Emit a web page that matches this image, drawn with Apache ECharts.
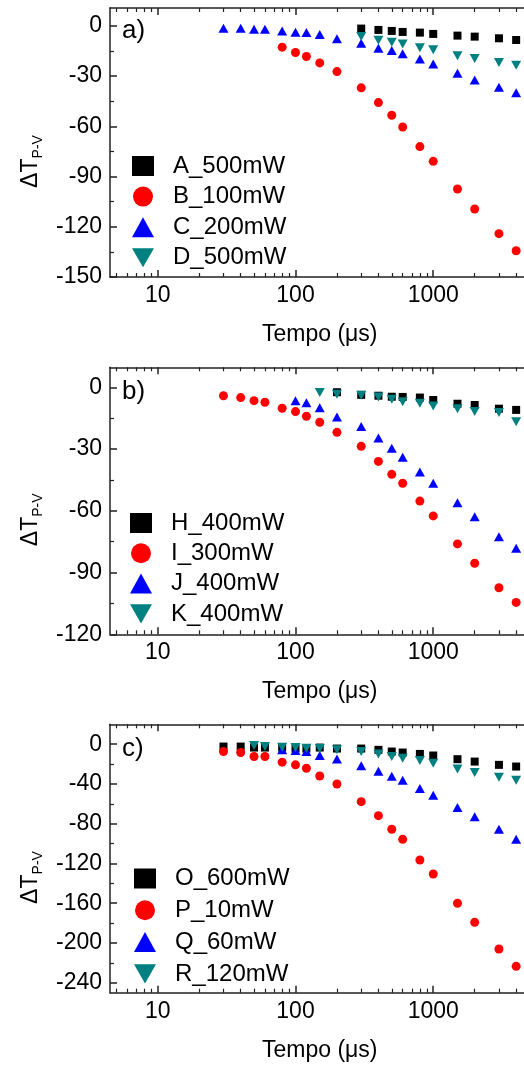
<!DOCTYPE html>
<html>
<head>
<meta charset="utf-8">
<script src="https://cdn.jsdelivr.net/npm/echarts@6/dist/echarts.min.js"></script>
<style>html,body{margin:0;padding:0;background:#fff}#c{width:524px;height:1067px}</style>
</head>
<body>
<div id="c"></div>
<script>
// ---- data ----
const t30 = [30,40,50,60,80,100,120,150,200,300,400,500,600,800,1000,1500,2000,3000,4000];
const t50 = [50,60,80,100,120,150,200,300,400,500,600,800,1000,1500,2000,3000,4000];
const t80 = [80,100,120,150,200,300,400,500,600,800,1000,1500,2000,3000,4000];
const t100 = [100,120,150,200,300,400,500,600,800,1000,1500,2000,3000,4000];
const t150 = [150,200,300,400,500,600,800,1000,1500,2000,3000,4000];
const t200 = [200,300,400,500,600,800,1000,1500,2000,3000,4000];
const t300 = [300,400,500,600,800,1000,1500,2000,3000,4000];

// panel a
const A_500mW = [-1.6,-2.4,-3,-3.6,-4,-4.8,-5.8,-6.4,-7.4,-8.4];
const B_100mW = [-12.7,-15.9,-18.3,-22.1,-27.3,-37,-45.8,-53.4,-60.4,-72.1,-80.9,-97.4,-109.4,-124.1,-134.3];
const C_200mW = [-1.4,-1.4,-2,-2,-3,-3.8,-4,-5.2,-7.6,-10.4,-13.3,-14.7,-16.7,-19.7,-22.7,-28.3,-32.3,-36.6,-39.9];
const D_500mW = [-6.4,-8.6,-9.8,-10.8,-13,-14.3,-17.9,-19.5,-21.9,-23.5];
// panel b
const H_400mW = [-2.4,-3.7,-4.1,-4.6,-4.7,-5,-6.2,-8,-8.6,-10.4,-11];
const I_300mW = [-4.1,-5,-6.5,-7.3,-10.2,-11.8,-14.1,-17,-21.9,-28.7,-36,-42.3,-46.6,-55.3,-62.5,-76.1,-85.5,-97.4,-104.5];
const J_400mW = [-6.5,-7.5,-9.9,-14.4,-19,-24.6,-29.6,-34,-41.2,-46.6,-56.1,-62.9,-72.6,-78.2];
const K_400mW = [-2.6,-3.4,-3.9,-4.7,-5.8,-7,-7.8,-9.1,-10.4,-11.8,-12.3,-16.7];
// panel c
const O_600mW = [-2.4,-2.4,-3.4,-3.4,-3.4,-4.4,-4.4,-3.4,-4.4,-4.4,-5.7,-7.4,-8.4,-9.8,-11.4,-15.1,-17.5,-20.8,-22.5];
const P_10mW = [-7.4,-8.4,-12.4,-12.4,-18.1,-20.8,-24.2,-32,-40,-57.8,-71.9,-85.6,-95.7,-116.5,-130.6,-160,-179.2,-206,-223.5];
const Q_60mW = [-5.7,-6.4,-7.4,-11.4,-14.8,-21.8,-27.2,-32.2,-36.2,-44.7,-51.3,-63.8,-72.9,-85.6,-95.7];
const R_120mW = [-1.4,-2.4,-3,-3.4,-4,-4.4,-5.7,-7.4,-9.8,-12.4,-14.1,-16.4,-19.1,-24.9,-28.6,-33.2,-36.2];

// tick labels
const xMajor = [10,100,1000];
const xMinor = [5,6,7,8,9,20,30,40,50,60,70,80,90,200,300,400,500,600,700,800,900,2000,3000,4000,5000];
const yMajorA = [-150,-120,-90,-60,-30,0];
const yMinorA = [-135,-105,-75,-45,-15];
const yMajorB = [-120,-90,-60,-30,0];
const yMinorB = [-105,-75,-45,-15];
const yMajorC = [-240,-200,-160,-120,-80,-40,0];
const yMinorC = [-220,-180,-140,-100,-60,-20];

const panelLabels = ['a)','b)','c)'];

// ---- layout / style ----
const FONT = 'Liberation Sans';
const AX = '#222';
const COL = {sq:'#000000', ci:'#ff0000', up:'#0000ff', dn:'#008080'};
const SYM = {
  sq: {symbol:'rect', size:8},
  ci: {symbol:'circle', size:9},
  up: {symbol:'triangle', size:[10,9]},
  dn: {symbol:'path://M0,0L10,0L5,8.66Z', size:[10,9]}
};
const panels = [
  {top:8, height:269, min:-150, max:10.7, yMajor:yMajorA, yMinor:yMinorA, legLeft:127, legTop:149, legGap:6.6, labY:33,
   series:[['A_500mW',t300,A_500mW,'sq'],['B_100mW',t80,B_100mW,'ci'],['C_200mW',t30,C_200mW,'up'],['D_500mW',t300,D_500mW,'dn']]},
  {top:367.3, height:267, min:-120, max:9.7, yMajor:yMajorB, yMinor:yMinorB, legLeft:125, legTop:506, legGap:6.3, labY:393.5,
   series:[['H_400mW',t200,H_400mW,'sq'],['I_300mW',t30,I_300mW,'ci'],['J_400mW',t100,J_400mW,'up'],['K_400mW',t150,K_400mW,'dn']]},
  {top:724.3, height:268.4, min:-250, max:20, yMajor:yMajorC, yMinor:yMinorC, legLeft:129, legTop:861.5, legGap:7.8, labY:751,
   series:[['O_600mW',t30,O_600mW,'sq'],['P_10mW',t30,P_10mW,'ci'],['Q_60mW',t80,Q_60mW,'up'],['R_120mW',t50,R_120mW,'dn']]}
];

const grid = [], xAxis = [], yAxis = [], series = [], legend = [], graphic = [];
const lineStyle = {color: AX, width: 1.5};
const logBase = {type:'log', logBase:10, min:4.5, max:5000, splitLine:{show:false}, minorTick:{show:false}};

panels.forEach((p, g) => {
  grid.push({left:110, top:p.top, width:419.5, height:p.height, containLabel:false, outerBoundsMode:'none'});
  // bottom major
  xAxis.push(Object.assign({}, logBase, {
    gridIndex:g, position:'bottom',
    axisLine:{show:true, onZero:false, lineStyle},
    axisTick:{show:true, inside:true, length:7, customValues:xMajor, lineStyle},
    axisLabel:{show:true, customValues:xMajor, formatter:v=>String(Math.round(v)), fontSize:23, fontFamily:FONT, color:'#000', margin:7},
    name:'Tempo (μs)', nameLocation:'middle', nameGap:46,
    nameTextStyle:{fontSize:23, fontFamily:FONT, color:'#000'}
  }));
  // bottom minor
  xAxis.push(Object.assign({}, logBase, {
    gridIndex:g, position:'bottom',
    axisLine:{show:false, onZero:false},
    axisTick:{show:true, inside:true, length:4, customValues:xMinor, lineStyle:{color:AX, width:1.2}},
    axisLabel:{show:false}
  }));
  // top major
  xAxis.push(Object.assign({}, logBase, {
    gridIndex:g, position:'top',
    axisLine:{show:true, onZero:false, lineStyle},
    axisTick:{show:true, inside:true, length:7, customValues:xMajor, lineStyle},
    axisLabel:{show:false}
  }));
  // top minor
  xAxis.push(Object.assign({}, logBase, {
    gridIndex:g, position:'top',
    axisLine:{show:false, onZero:false},
    axisTick:{show:true, inside:true, length:4, customValues:xMinor, lineStyle:{color:AX, width:1.2}},
    axisLabel:{show:false}
  }));
  // y major
  yAxis.push({
    gridIndex:g, type:'value', min:p.min, max:p.max, position:'left',
    splitLine:{show:false},
    axisLine:{show:true, onZero:false, lineStyle},
    axisTick:{show:true, inside:true, length:7, customValues:p.yMajor, lineStyle},
    axisLabel:{show:true, customValues:p.yMajor, formatter:v=>String(v), fontSize:23, fontFamily:FONT, color:'#000', margin:8},
    name:'{a|ΔT}{b|P-V}', nameLocation:'middle', nameGap:64,
    nameTextStyle:{fontFamily:FONT, color:'#000', padding:[0,38,0,0],
      rich:{a:{fontSize:23, fontFamily:FONT, color:'#000', lineHeight:26, verticalAlign:'top'},
            b:{fontSize:14, fontFamily:FONT, color:'#000', lineHeight:16, padding:[17,0,0,0], verticalAlign:'bottom'}}}
  });
  // y minor
  yAxis.push({
    gridIndex:g, type:'value', min:p.min, max:p.max, position:'left',
    splitLine:{show:false},
    axisLine:{show:false, onZero:false},
    axisTick:{show:true, inside:true, length:4, customValues:p.yMinor, lineStyle:{color:AX, width:1.2}},
    axisLabel:{show:false}
  });
  const names = [];
  p.series.forEach(([name, xs, ys, kind]) => {
    names.push(kind === 'dn' ? {name, icon:SYM.dn.symbol} : name);
    series.push({
      type:'scatter', name, xAxisIndex:4*g, yAxisIndex:2*g,
      symbol:SYM[kind].symbol, symbolSize:SYM[kind].size,
      itemStyle:{color:COL[kind], opacity:1},
      emphasis:{disabled:true},
      data: xs.map((x,i)=>[x, ys[i]])
    });
  });
  legend.push({
    orient:'vertical', left:p.legLeft, top:p.legTop, itemWidth:22, itemHeight:20, itemGap:p.legGap,
    data:names, selectedMode:false,
    textStyle:{fontSize:24, fontFamily:FONT, color:'#000', padding:[0,0,0,14]}
  });
  graphic.push({type:'text', left:122, top:p.labY - 15, style:{text:panelLabels[g], fontSize:26, fontFamily:FONT, fill:'#000'}});
});

const chart = echarts.init(document.getElementById('c'), null, {renderer:'canvas'});
chart.setOption({
  animation:false,
  backgroundColor:'#fff',
  grid, xAxis, yAxis, series, legend, graphic
});
</script>
</body>
</html>
